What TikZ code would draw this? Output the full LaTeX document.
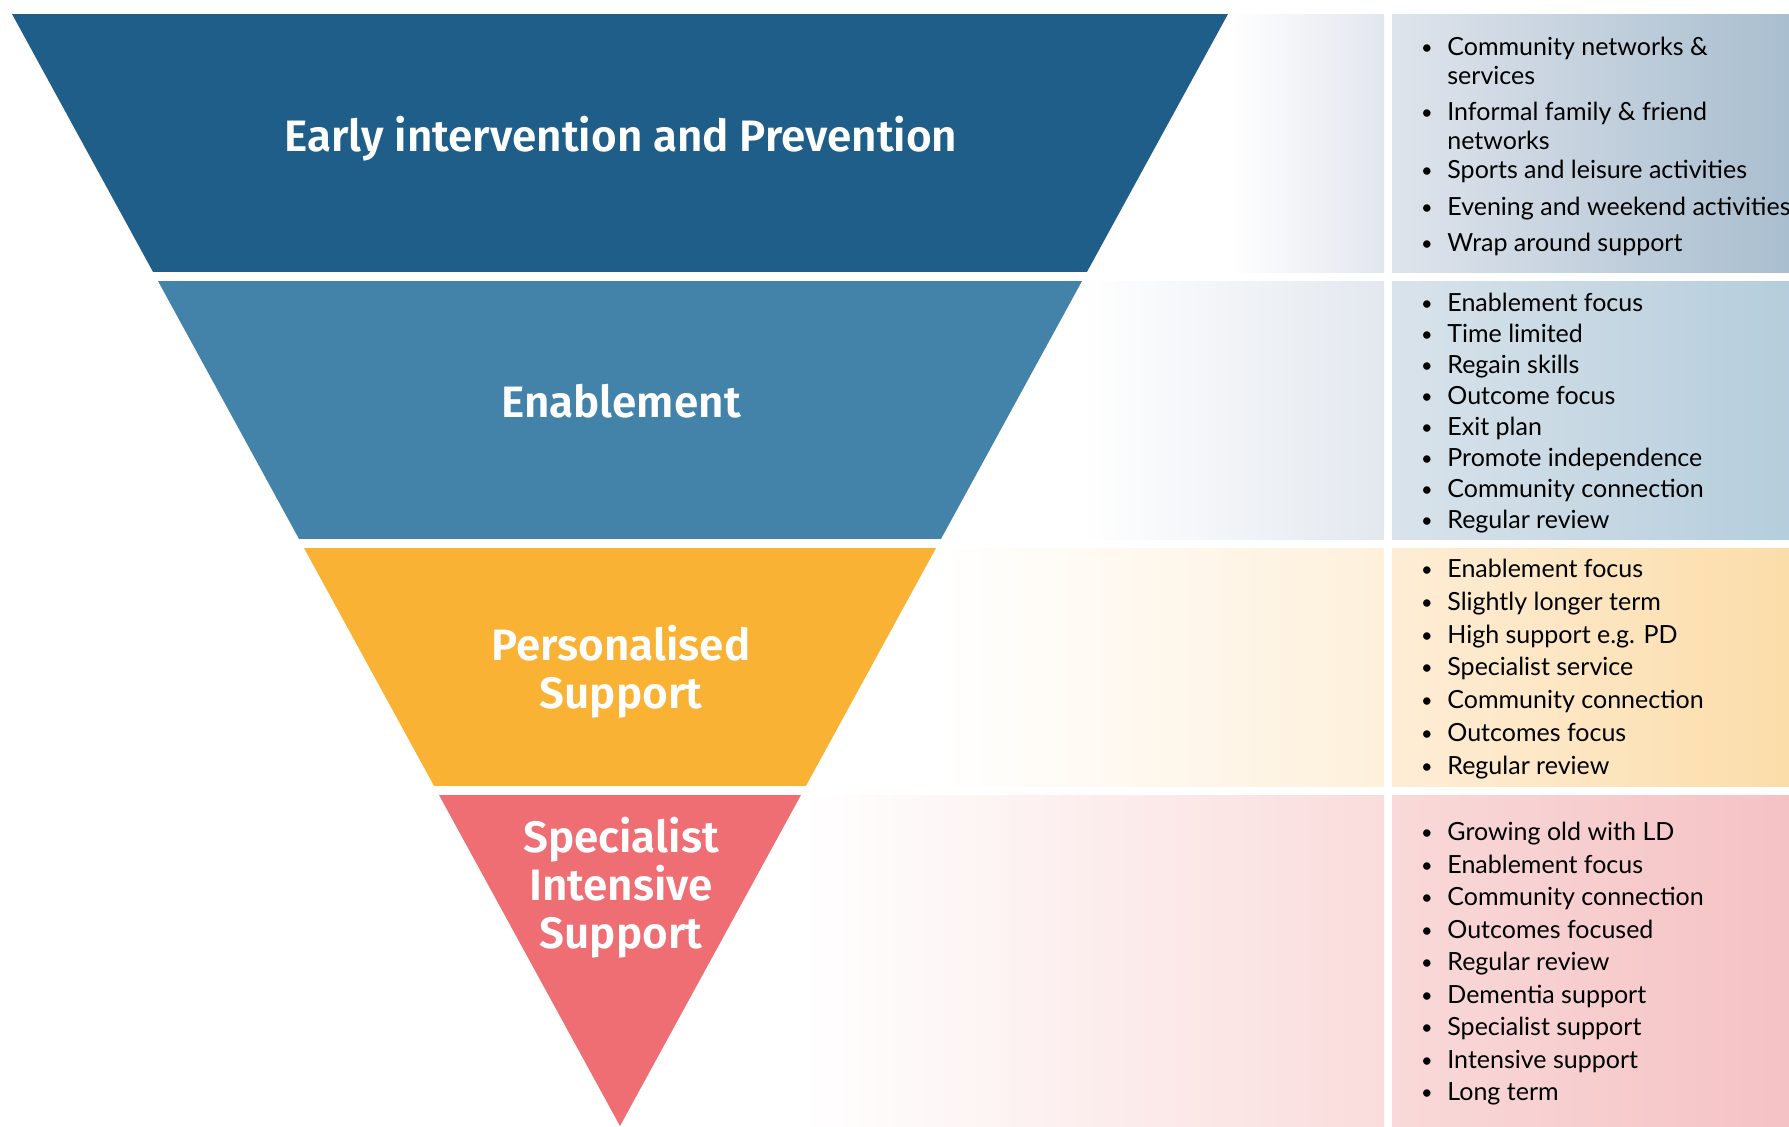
\documentclass[tikz,border=0pt]{standalone}
\usepackage{fontspec}
\setmainfont{Lato}
\newfontfamily\headfont{Fira Sans}[BoldFont={* SemiBold}]

\definecolor{earlyblue}{HTML}{1F5E89}
\definecolor{enableblue}{HTML}{4383AA}
\definecolor{persorange}{HTML}{F9B233}
\definecolor{specred}{HTML}{EE6E73}
% tints of the side panels
\definecolor{earlyfade}{HTML}{E2E6EE}
\definecolor{earlypanA}{HTML}{DFE4EC}
\definecolor{earlypanB}{HTML}{A9BECF}
\definecolor{enablefade}{HTML}{E3E8EF}
\definecolor{enablepanA}{HTML}{D9E3EB}
\definecolor{enablepanB}{HTML}{B5CDDC}
\definecolor{persfade}{HTML}{FEF0DB}
\definecolor{perspanA}{HTML}{FEEDD6}
\definecolor{perspanB}{HTML}{FBDDA9}
\definecolor{specfade}{HTML}{FADCDC}
\definecolor{specpanA}{HTML}{F9D9D9}
\definecolor{specpanB}{HTML}{F5C2C4}

\begin{document}
\begin{tikzpicture}[x=0.5pt,y=-0.5pt,
    heading/.style={text=white,align=center,
      font=\headfont\bfseries\fontsize{22}{24}\selectfont},
    bultext/.style={anchor=west,inner sep=0pt,text height=1.6ex,text depth=.45ex,
      font=\fontsize{12.5}{15}\selectfont},
    item/.style={bultext,label={[inner sep=0pt,label distance=7pt]left:\textbullet}}]
    \useasboundingbox (0,0) rectangle (1789,1126);
    % fading strips between funnel and panels
    \shade[left color=white,right color=earlyfade] (1228,14) rectangle (1384,272);
    \shade[left color=white,right color=enablefade] (1082,281) rectangle (1384,539);
    \shade[left color=white,right color=persfade] (936,548) rectangle (1384,786);
    \shade[left color=white,right color=specfade] (801,795) rectangle (1384,1126);
    \shade[left color=earlypanA,right color=earlypanB] (1392,14) rectangle (1789,272);
    \shade[left color=enablepanA,right color=enablepanB] (1392,281) rectangle (1789,539);
    \shade[left color=perspanA,right color=perspanB] (1392,548) rectangle (1789,786);
    \shade[left color=specpanA,right color=specpanB] (1392,795) rectangle (1789,1126);
    % funnel
    \begin{scope}
    \clip (12,14) -- (1228,14) -- (620,1126) -- cycle;
    \fill[earlyblue] (0,14) rectangle (1300,272);
    \fill[enableblue] (0,281) rectangle (1300,539);
    \fill[persorange] (0,548) rectangle (1300,786);
    \fill[specred] (0,795) rectangle (1300,1126);
    \end{scope}
    \node[heading] (early) at (621,139) {Early intervention and Prevention};
    \node[heading] (enable) at (621,401) {Enablement};
    \node[heading] (pers) at (621,672) {Personalised\\Support};
    \node[heading] (spec) at (621,888) {Specialist\\Intensive\\Support};
    % lists
    \node[item] (early1) at (1447,50) {Community networks \&};
    \node[bultext] (early1b) at (1447,79) {services};
    \node[item] (early2) at (1447,115) {Informal family \& friend};
    \node[bultext] (early2b) at (1447,144) {networks};
    \node[item] (early3) at (1447,173) {Sports and leisure activities};
    \node[item] (early4) at (1447,210) {Evening and weekend activities};
    \node[item] (early5) at (1447,246) {Wrap around support};
    \foreach \txt [count=\i] in {Enablement focus,Time limited,Regain skills,
      Outcome focus,Exit plan,Promote independence,Community connection,Regular review}
      \node[item] (enable\i) at (1447,{306+31*(\i-1)}) {\txt};
    \foreach \txt [count=\i] in {Enablement focus,Slightly longer term,High support e.g. PD,
      Specialist service,Community connection,Outcomes focus,Regular review}
      \node[item] (pers\i) at (1447,{572+32.7*(\i-1)}) {\txt};
    \foreach \txt [count=\i] in {Growing old with LD,Enablement focus,Community connection,
      Outcomes focused,Regular review,Dementia support,Specialist support,
      Intensive support,Long term}
      \node[item] (spec\i) at (1447,{835+32.5*(\i-1)}) {\txt};
\end{tikzpicture}
\end{document}
